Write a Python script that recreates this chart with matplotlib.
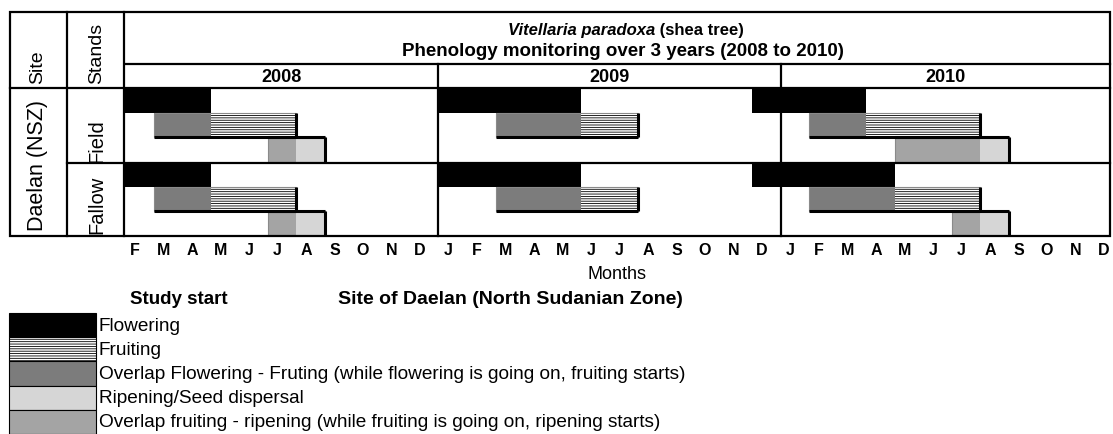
import matplotlib.pyplot as plt
from matplotlib.patches import Rectangle
import numpy as np

plt.rcParams['font.family'] = ['Liberation Sans', 'DejaVu Sans']
plt.rcParams['hatch.linewidth'] = 0.6

# month labels (study starts in Feb 2008), month index 0 = Feb 2008
months = list('FMAMJJASOND') + list('JFMAMJJASOND') + list('JFMAMJJASOND')
years = ['2008', '2009', '2010']
stands = ['Field', 'Fallow']

# phase start / end in month index, one list per stand, one value per year
flower_start = [[0, 11, 22], [0, 11, 22]]
flower_end = [[3, 16, 26], [3, 16, 27]]
fruit_start = [[1, 13, 24], [1, 13, 24]]
fruit_end = [[6, 18, 30], [6, 18, 30]]
ripen_start = [[5, np.nan, 27], [5, np.nan, 29]]
ripen_end = [[7, np.nan, 31], [7, np.nan, 31]]

legend_labels = ['Flowering', 'Fruiting',
                 'Overlap Flowering - Fruting (while flowering is going on, fruiting starts)',
                 'Ripening/Seed dispersal',
                 'Overlap fruiting - ripening (while fruiting is going on, ripening starts)']

c_overlap_ff = '#7c7c7c'
c_ripen = '#d6d6d6'
c_overlap_fr = '#a4a4a4'

W, H = 1113, 435
fig = plt.figure(figsize=(W / 100, H / 100), dpi=100)

# data area in pixels
x0, x1, y0, y1 = 125, 1110, 89, 237
ax = fig.add_axes([x0 / W, 1 - y1 / H, (x1 - x0) / W, (y1 - y0) / H])
ax.set_xlim(0, 34.56)
ax.set_ylim(6, 0)

for s in range(len(stands)):
    base = s * 3
    fs = np.array(flower_start[s]); fe = np.array(flower_end[s])
    rs = np.array(fruit_start[s]); re = np.array(fruit_end[s])
    ps = np.array(ripen_start[s]); pe = np.array(ripen_end[s])
    ok = ~np.isnan(ps)
    # flowering
    ax.barh(base + 0.5, fe - fs, left=fs, height=1, color='black', linewidth=0)
    # fruiting lane: overlap with flowering, then fruiting only
    ax.barh(base + 1.5, fe - rs, left=rs, height=1, color=c_overlap_ff, linewidth=0)
    ax.barh(base + 1.5, re - fe, left=fe, height=1, facecolor='white',
            edgecolor='black', hatch='-------', linewidth=0)
    ax.barh(base + 1.5, re - rs, left=rs, height=1, fill=False, edgecolor='#8a8a8a', linewidth=0.8)
    ax.hlines(np.full(len(rs), base + 2), rs, re, color='black', linewidth=2.2)
    ax.vlines(re, base + 1, base + 2, color='black', linewidth=2.2)
    # ripening lane: overlap with fruiting, then ripening only
    ax.barh(base + 2.5, (re - ps)[ok], left=ps[ok], height=1, color=c_overlap_fr, linewidth=0)
    ax.barh(base + 2.5, (pe - re)[ok], left=re[ok], height=1, color=c_ripen, linewidth=0)
    ax.barh(base + 2.5, (pe - ps)[ok], left=ps[ok], height=1, fill=False, edgecolor='#8a8a8a', linewidth=0.8)
    ax.hlines(np.full(ok.sum(), base + 2), ps[ok], pe[ok], color='black', linewidth=2.2)
    ax.vlines(pe[ok], base + 2, base + 3, color='black', linewidth=2.2)

ax.set_xticks(np.arange(len(months)) + 0.35)
ax.set_xticklabels(months, fontsize=11.5, fontweight='bold')
ax.tick_params(axis='x', length=0, pad=4)
ax.set_yticks([])
for sp in ax.spines.values():
    sp.set_visible(False)

# overlay in pixel coordinates for the table frame and texts
ov = fig.add_axes([0, 0, 1, 1], zorder=5)
ov.set_xlim(0, W)
ov.set_ylim(H, 0)
ov.axis('off')
ov.patch.set_alpha(0)

lw = 1.6
ov.add_patch(Rectangle((10, 13), 1100, 224, fill=False, linewidth=lw, edgecolor='black'))
ov.plot([125, 1110], [65, 65], color='black', linewidth=lw)
ov.plot([10, 1110], [89, 89], color='black', linewidth=lw)
ov.plot([67, 1110], [164, 164], color='black', linewidth=lw)
for xv in [67, 124]:
    ov.plot([xv, xv], [13, 237], color='black', linewidth=lw)
for xv in [438, 781]:
    ov.plot([xv, xv], [65, 237], color='black', linewidth=lw)

# header texts
t1 = ov.text(0, 30, 'Vitellaria paradoxa', fontsize=12, fontweight='bold', style='italic', va='center')
t2 = ov.text(0, 30, ' (shea tree)', fontsize=12, fontweight='bold', va='center')
fig.canvas.draw()
r = fig.canvas.get_renderer()
w1 = t1.get_window_extent(r).width
w2 = t2.get_window_extent(r).width
xs = 626 - (w1 + w2) / 2
t1.set_x(xs)
t2.set_x(xs + w1)
ov.text(623, 52, 'Phenology monitoring over 3 years (2008 to 2010)', fontsize=13.5,
        fontweight='bold', ha='center', va='center')
for yr, xc in zip(years, [281, 609, 946]):
    ov.text(xc, 77, yr, fontsize=13, fontweight='bold', ha='center', va='center')

ov.text(38, 84, 'Site', fontsize=14, rotation=90, ha='center', va='bottom')
ov.text(97, 84, 'Stands', fontsize=14, rotation=90, ha='center', va='bottom')
ov.text(38, 166, 'Daelan (NSZ)', fontsize=15.5, rotation=90, ha='center', va='center')
ov.text(97, 141, stands[0], fontsize=14.5, rotation=90, ha='center', va='center')
ov.text(97, 205, stands[1], fontsize=14.5, rotation=90, ha='center', va='center')

ov.text(617, 275, 'Months', fontsize=13, ha='center', va='center')

# legend
ov.text(130, 300, 'Study start', fontsize=13.5, fontweight='bold', va='center')
ov.text(338, 300, 'Site of Daelan (North Sudanian Zone)', fontsize=14, fontweight='bold', va='center')
sw_styles = [dict(facecolor='black'),
             dict(facecolor='white', hatch='-------'),
             dict(facecolor=c_overlap_ff),
             dict(facecolor=c_ripen),
             dict(facecolor=c_overlap_fr)]
row_h = 24.2
for i, (lab, st) in enumerate(zip(legend_labels, sw_styles)):
    yt = 314 + i * row_h
    ov.add_patch(Rectangle((9, yt), 87, row_h, edgecolor='black', linewidth=0.8, **st))
    ov.text(99, yt + row_h / 2, lab, fontsize=13.7, va='center')

fig.savefig('out.png', dpi=100)
